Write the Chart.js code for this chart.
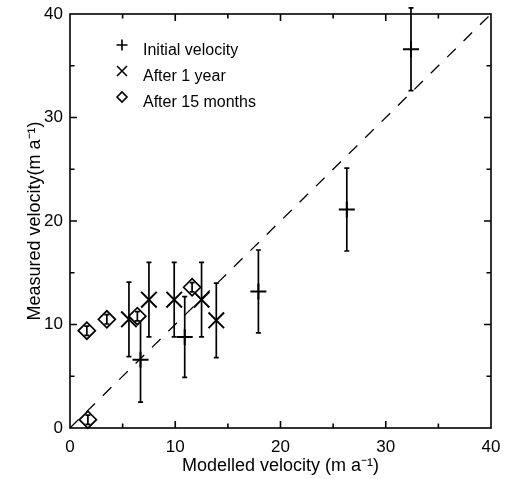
<!DOCTYPE html>
<html lang="en">
<head>
<meta charset="UTF-8">
<title>Measured vs modelled velocity</title>
<script src="https://cdn.jsdelivr.net/npm/chart.js@4"></script>
<style>
  body { margin: 0; background: #fff; }
  #wrap { width: 505px; height: 479px; }
</style>
</head>
<body>
<div id="wrap"><canvas id="velChart" width="505" height="479"></canvas></div>
<script>
// Initial velocity (+)
const initX = [6.7, 10.9, 17.9, 26.3, 32.4];
const initY = [6.6, 8.8, 13.2, 21.1, 36.6];
const initErr = [4.1, 3.9, 4.0, 4.0, 4.0];

// After 1 year (x)
const yearX = [5.6, 7.5, 9.9, 12.5, 13.9];
const yearY = [10.5, 12.4, 12.4, 12.4, 10.4];
const yearErr = [3.6, 3.6, 3.6, 3.6, 3.6];

// After 15 months (diamond)
const monthX = [1.6, 3.5, 6.4, 11.6, 1.7];
const monthY = [9.4, 10.5, 10.8, 13.6, 0.8];
const monthErr = [0.45, 0.45, 0.45, 0.45, 0.45];

// 1:1 line
const oneToOne = [0, 40];

const axisTicks = [0, 10, 20, 30, 40];

const FONT = '"Liberation Sans", Arial, Helvetica, sans-serif';

function pts(xs, ys) {
    return xs.map((x, i) => ({ x: x, y: ys[i] }));
}

// error bars drawn right after each dataset so diamonds hide the bars behind them
const errorBars = {
    id: 'errorBars',
    afterDatasetDraw(chart, args) {
        const ds = chart.data.datasets[args.index];
        if (!ds.err) return;
        const ctx = chart.ctx, xs = chart.scales.x, ys = chart.scales.y;
        ctx.save();
        ctx.strokeStyle = '#000';
        ctx.lineWidth = 1.7;
        ds.data.forEach((p, i) => {
            const px = xs.getPixelForValue(p.x);
            const top = ys.getPixelForValue(p.y + ds.err[i]);
            const bot = ys.getPixelForValue(p.y - ds.err[i]);
            ctx.beginPath();
            ctx.moveTo(px, top); ctx.lineTo(px, bot);
            ctx.moveTo(px - 2.5, top); ctx.lineTo(px + 2.5, top);
            ctx.moveTo(px - 2.5, bot); ctx.lineTo(px + 2.5, bot);
            ctx.stroke();
        });
        ctx.restore();
    }
};

// box frame with inward ticks on all four sides
const frame = {
    id: 'frame',
    afterDraw(chart) {
        const ctx = chart.ctx, a = chart.chartArea;
        const xs = chart.scales.x, ys = chart.scales.y;
        ctx.save();
        ctx.strokeStyle = '#000';
        ctx.lineWidth = 1.6;
        ctx.strokeRect(a.left, a.top, a.right - a.left, a.bottom - a.top);
        ctx.beginPath();
        for (let v = 5; v < 40; v += 5) {
            const len = v % 10 === 0 ? 7 : 4.5;
            const px = xs.getPixelForValue(v);
            ctx.moveTo(px, a.bottom); ctx.lineTo(px, a.bottom - len);
            ctx.moveTo(px, a.top); ctx.lineTo(px, a.top + len);
            const py = ys.getPixelForValue(v);
            ctx.moveTo(a.left, py); ctx.lineTo(a.left + len, py);
            ctx.moveTo(a.right, py); ctx.lineTo(a.right - len, py);
        }
        ctx.stroke();
        ctx.restore();
    }
};

// legend box inside the plot, top left
const insideLegend = {
    id: 'insideLegend',
    afterDraw(chart) {
        const ctx = chart.ctx;
        const items = chart.data.datasets.filter(d => d.legendRow !== undefined);
        ctx.save();
        ctx.font = '16px ' + FONT;
        ctx.textBaseline = 'alphabetic';
        items.forEach(d => {
            const y = 45 + d.legendRow * 26;
            ctx.fillStyle = '#fff';
            ctx.strokeStyle = '#000';
            ctx.lineWidth = 1.6;
            Chart.helpers.drawPoint(ctx, {
                pointStyle: d.pointStyle,
                radius: d.legendRadius,
                borderWidth: 1.6
            }, 122, y);
            ctx.fillStyle = '#000';
            ctx.fillText(d.label, 143, y + 10);
        });
        ctx.restore();
    }
};

function noEdgePadding(s) {
    s.paddingLeft = 0;
    s.paddingRight = 0;
    s.paddingTop = 0;
    s.paddingBottom = 0;
}

new Chart(document.getElementById('velChart'), {
    type: 'scatter',
    data: {
        datasets: [
            {
                label: 'Initial velocity',
                data: pts(initX, initY),
                err: initErr,
                pointStyle: 'cross',
                pointRadius: 8,
                borderColor: '#000',
                borderWidth: 2,
                legendRow: 0,
                legendRadius: 5.5,
                clip: false,
                order: 3
            },
            {
                label: 'After 1 year',
                data: pts(yearX, yearY),
                err: yearErr,
                pointStyle: 'crossRot',
                pointRadius: 11,
                borderColor: '#000',
                borderWidth: 2,
                legendRow: 1,
                legendRadius: 7,
                clip: false,
                order: 2
            },
            {
                label: 'After 15 months',
                data: pts(monthX, monthY),
                err: monthErr,
                pointStyle: 'rectRot',
                pointRadius: 8.5,
                backgroundColor: '#fff',
                borderColor: '#000',
                borderWidth: 1.7,
                legendRow: 2,
                legendRadius: 5,
                clip: false,
                order: 1
            },
            {
                type: 'line',
                label: '1:1',
                data: pts(oneToOne, oneToOne),
                borderColor: '#000',
                borderWidth: 1.3,
                borderDash: [12, 11],
                pointRadius: 0,
                showLine: true,
                order: 4
            }
        ]
    },
    options: {
        responsive: false,
        animation: false,
        devicePixelRatio: 1,
        layout: { padding: { top: 14, right: 14, left: 0, bottom: 0 } },
        plugins: {
            legend: { display: false },
            tooltip: { enabled: false }
        },
        scales: {
            x: {
                type: 'linear',
                min: 0,
                max: 40,
                afterFit: s => { s.height = 51; noEdgePadding(s); },
                afterBuildTicks: s => { s.ticks = axisTicks.map(v => ({ value: v })); },
                grid: { display: false, drawTicks: false },
                border: { display: false },
                ticks: { color: '#000', font: { family: FONT, size: 17 }, padding: 9, maxRotation: 0 },
                title: {
                    display: true,
                    text: 'Modelled velocity (m a\u207B\u00B9)',
                    color: '#000',
                    font: { family: FONT, size: 18 },
                    padding: { top: 0, bottom: 2 }
                }
            },
            y: {
                type: 'linear',
                min: 0,
                max: 40,
                afterFit: s => { s.width = 70; noEdgePadding(s); },
                afterBuildTicks: s => { s.ticks = axisTicks.map(v => ({ value: v })); },
                grid: { display: false, drawTicks: false },
                border: { display: false },
                ticks: { color: '#000', font: { family: FONT, size: 17 }, padding: 7 },
                title: {
                    display: true,
                    text: 'Measured velocity(m a\u207B\u00B9)',
                    color: '#000',
                    font: { family: FONT, size: 18 },
                    padding: { top: 24, bottom: 0 }
                }
            }
        }
    },
    plugins: [errorBars, frame, insideLegend]
});
</script>
</body>
</html>
